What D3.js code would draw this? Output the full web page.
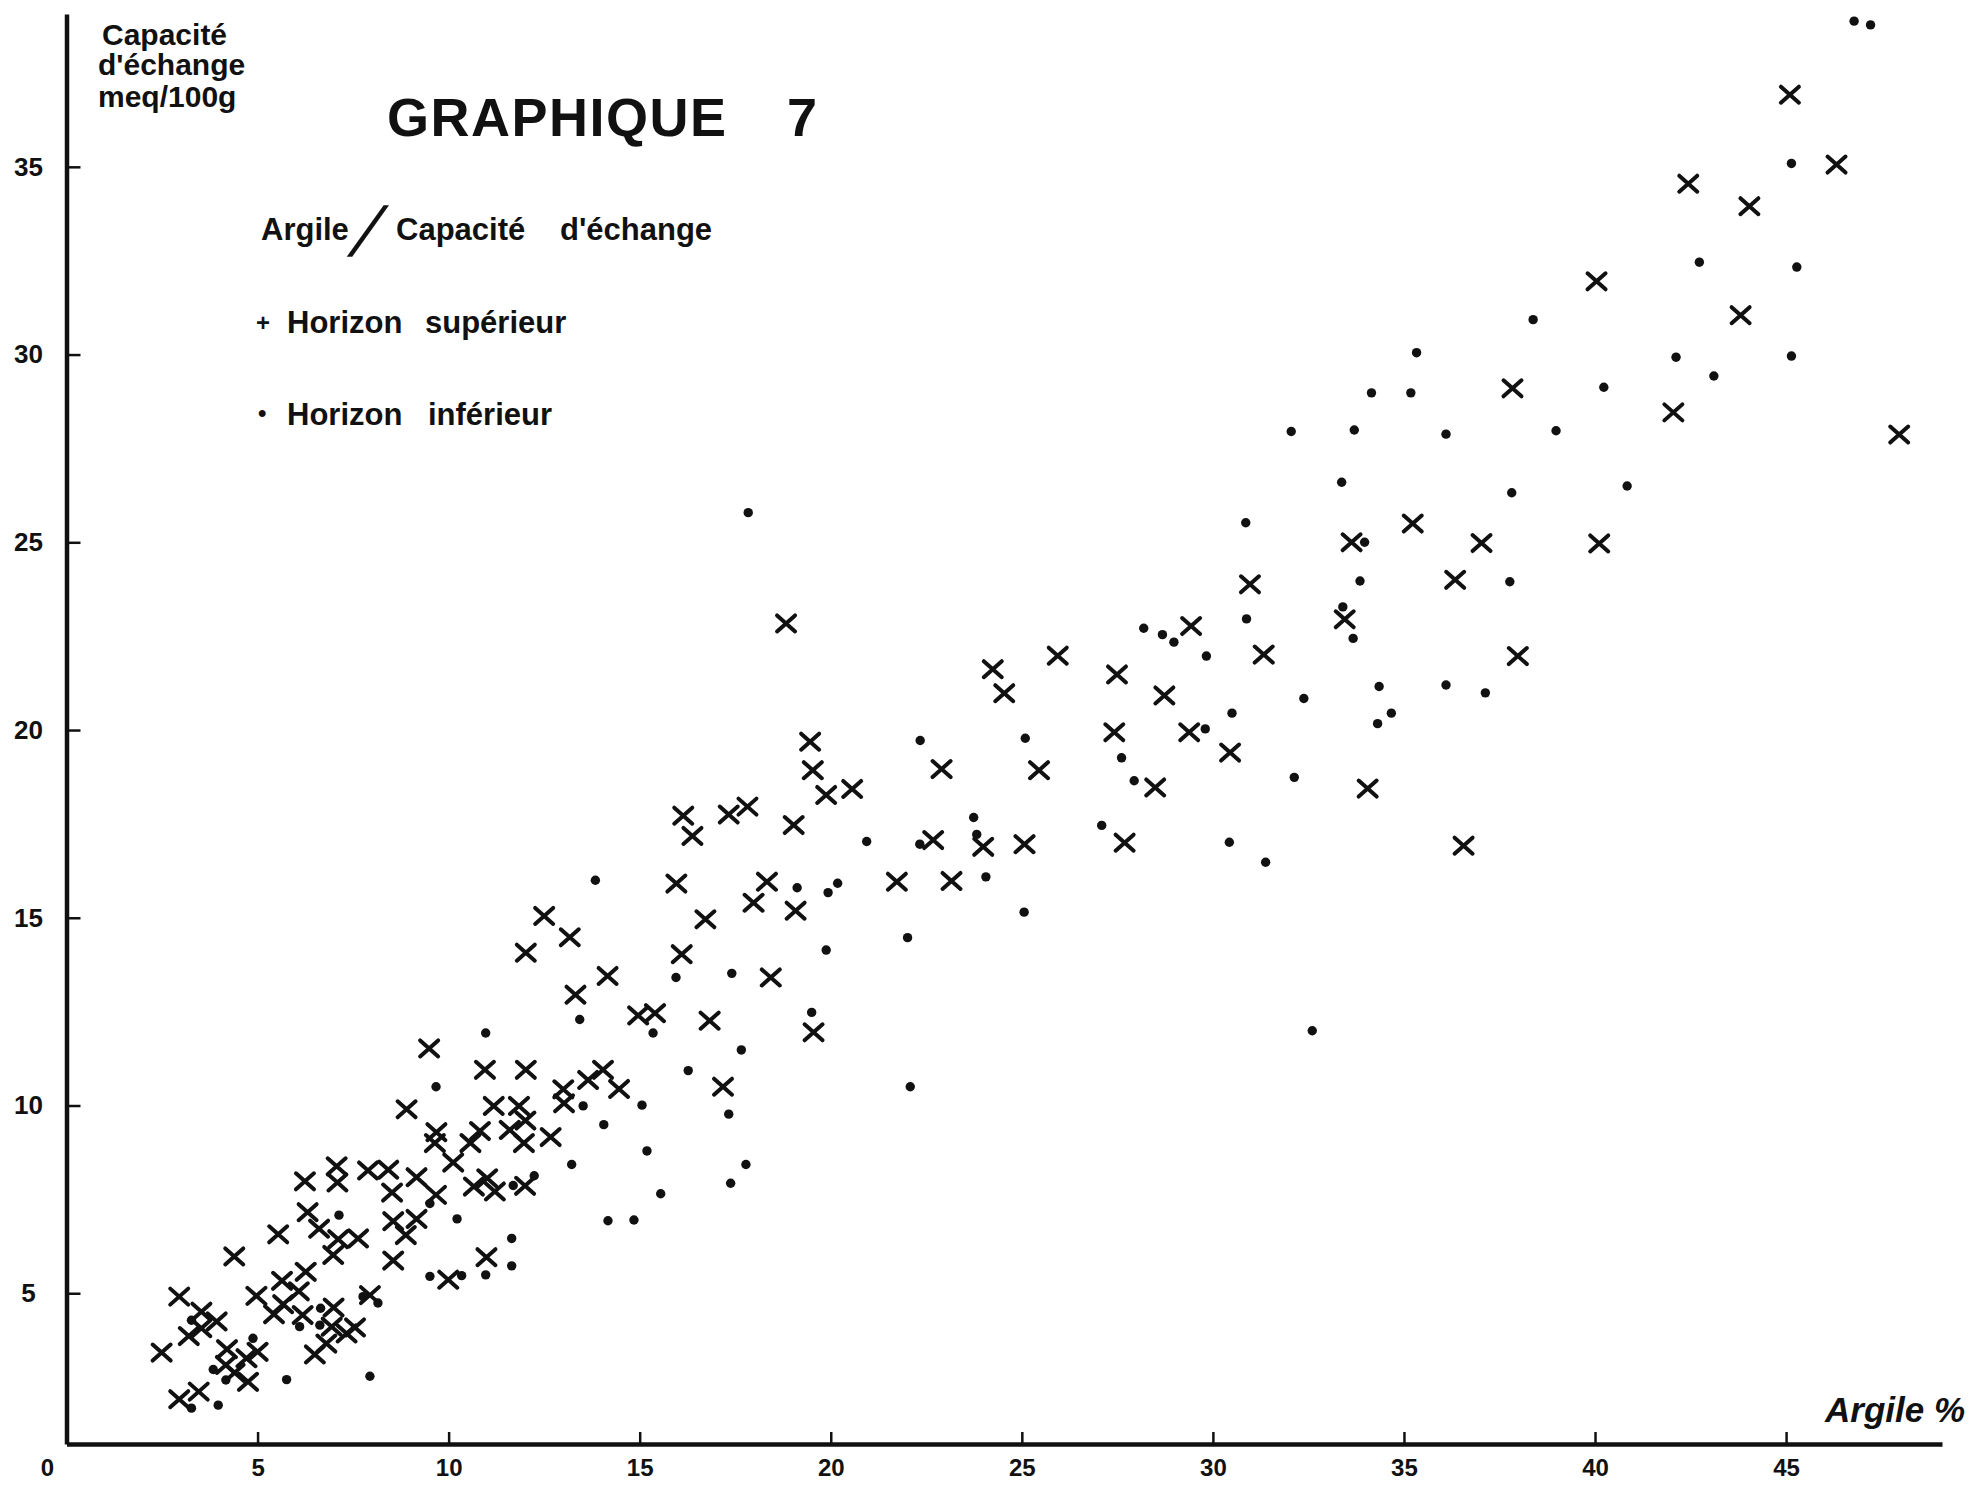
<!DOCTYPE html>
<html><head><meta charset="utf-8">
<script src="https://cdn.jsdelivr.net/npm/d3@7"></script>
<style>
html,body{margin:0;padding:0;background:#fff;}
svg{display:block;}
text{font-family:"Liberation Sans", Arial, sans-serif; fill:#111;}
</style></head><body>
<svg id="chart" width="1969" height="1494"></svg>
<script>
// ---- data ----
const xTicks = [5,10,15,20,25,30,35,40,45];
const yTicks = [5,10,15,20,25,30,35];

// Horizon supérieur (crosses): [argile %, capacité d'échange]
const superieur = [
 [45.1,36.92],[46.32,35.06],[42.44,34.55],[44.04,33.95],[40.04,31.95],[43.81,31.05],[37.84,29.1],[42.05,28.46],[47.96,27.87],[40.11,24.97],
 [35.23,25.5],[33.63,25.0],[37.03,24.98],[30.97,23.88],[36.34,24.0],[33.45,22.95],[29.43,22.77],[31.33,22.01],[37.98,21.97],[27.49,21.48],
 [28.73,20.92],[27.42,19.94],[29.38,19.94],[30.45,19.4],[28.49,18.47],[34.05,18.44],[36.56,16.92],[27.69,17.0],
 [18.83,22.84],[25.94,21.98],[24.24,21.62],[24.54,20.98],[19.46,19.69],[19.53,18.93],[22.9,18.96],[25.45,18.93],[19.88,18.27],[20.56,18.43],
 [17.33,17.75],[17.82,17.96],[19.03,17.47],[23.99,16.89],[22.68,17.07],[25.07,16.96],[18.33,15.96],[17.98,15.4],[19.08,15.19],[16.72,14.96],
 [21.73,15.96],[23.16,15.98],[18.43,13.41],[19.55,11.95],[16.83,12.26],[17.18,10.5],[16.14,17.72],[16.38,17.18],
 [15.96,15.91],[12.5,15.05],[13.17,14.48],[12.02,14.07],[16.1,14.03],[14.16,13.45],[13.32,12.95],[14.96,12.4],[15.4,12.46],[9.49,11.52],
 [10.95,10.95],[12.02,10.95],[8.9,9.9],[13.0,10.43],[13.02,10.06],[13.65,10.68],[14.04,10.95],[14.46,10.44],[11.18,9.99],[11.84,9.99],
 [9.68,9.29],[9.64,9.0],[10.82,9.32],[10.57,9.0],[11.6,9.35],[12.01,9.6],[11.97,9.0],[12.67,9.16],[10.12,8.48],[8.42,8.29],
 [9.16,8.09],[8.52,7.68],[9.67,7.62],[10.66,7.84],[11.01,8.06],[11.21,7.71],[12.0,7.86],[8.55,6.92],[9.16,6.98],[8.88,6.55],
 [7.07,8.38],[7.09,7.95],[7.89,8.27],[6.24,7.98],[6.31,7.16],[6.61,6.72],[5.54,6.57],[7.11,6.44],[7.63,6.46],[6.98,6.02],
 [8.55,5.87],[10.99,5.96],[9.99,5.36],[7.94,4.95],[4.39,5.98],[2.95,4.91],[3.53,4.51],[3.93,4.25],[3.53,4.07],[3.2,3.86],
 [2.49,3.42],[4.2,3.51],[4.71,3.27],[5.0,3.44],[4.17,3.09],[4.4,2.88],[4.75,2.64],[4.97,4.93],[5.64,5.33],[6.26,5.57],
 [6.08,5.05],[5.67,4.71],[5.43,4.44],[6.18,4.42],[6.99,4.62],[6.94,4.11],[7.55,4.09],[7.33,3.93],[6.8,3.66],[6.5,3.37],
 [2.95,2.18],[3.46,2.38]
];

// Horizon inférieur (dots)
const inferieur = [
 [46.78,38.88],[47.21,38.78],[45.14,35.09],[42.73,32.46],[45.28,32.33],[38.38,30.93],[42.12,29.93],[45.14,29.96],[43.11,29.43],[40.23,29.13],
 [38.98,27.97],[37.82,26.32],[40.84,26.5],[37.77,23.95],
 [35.33,30.05],[34.15,28.98],[35.18,28.98],[32.05,27.95],[33.7,27.99],[36.1,27.88],[33.37,26.6],[30.86,25.52],[33.97,25.0],[33.85,23.97],
 [33.4,23.28],[33.67,22.44],[30.88,22.96],[28.19,22.71],[28.68,22.54],[28.98,22.34],[29.83,21.97],[32.38,20.84],[34.35,21.16],[36.1,21.2],
 [37.13,20.99],[34.67,20.45],[34.31,20.17],[30.5,20.45],[29.8,20.03],[27.61,19.26],[27.94,18.65],[32.13,18.74],[27.09,17.46],[30.43,17.01],
 [31.38,16.48],[32.6,11.99],
 [22.34,19.72],[25.09,19.78],[23.74,17.67],[23.82,17.22],[20.94,17.03],[22.33,16.96],[19.12,15.8],[19.93,15.67],[20.18,15.92],[24.06,16.09],
 [25.06,15.15],[22.01,14.47],[19.88,14.14],[17.41,13.52],[19.5,12.48],[17.66,11.48],[22.08,10.5],[17.84,25.79],
 [13.84,16.0],[15.95,13.41],[13.43,12.29],[15.35,11.93],[10.97,11.93],[9.67,10.5],[13.52,9.99],[15.06,10.01],[17.33,9.77],[14.06,9.49],
 [15.19,8.79],[13.22,8.43],[17.78,8.43],[17.38,7.93],[15.55,7.65],[9.51,7.39],[11.69,7.87],[12.24,8.13],[10.22,6.98],[11.65,6.46],
 [14.17,6.93],[14.85,6.95],[16.27,10.93],
 [7.13,7.08],[9.51,5.45],[10.34,5.47],[10.97,5.49],[11.65,5.73],[7.76,4.91],[8.15,4.74],[3.27,4.28],[4.88,3.8],[3.84,2.97],
 [4.17,2.69],[5.76,2.7],[7.94,2.79],[6.1,4.11],[6.65,4.6],[6.63,4.15],[3.27,1.94],[3.97,2.02]
];

// ---- drawing ----
const W = 1969, H = 1494;
const svg = d3.select("#chart");
svg.append("rect").attr("width", W).attr("height", H).attr("fill", "#fff");

const x = d3.scaleLinear().domain([0, 49.08]).range([66.5, 1942]);
const y = d3.scaleLinear().domain([0.985, 39.07]).range([1444, 14]);
const ink = "#111";

// x axis
const gx = svg.append("g").attr("transform", "translate(0,1444)")
  .call(d3.axisBottom(x).tickValues(xTicks).tickSizeInner(-12).tickSizeOuter(0).tickPadding(15).tickFormat(d3.format("d")));
gx.select(".domain").attr("stroke", ink).attr("stroke-width", 4.5);
gx.selectAll(".tick line").attr("stroke", ink).attr("stroke-width", 2.5);
gx.selectAll(".tick text").attr("fill", ink).attr("font-size", 24).attr("font-weight", "bold")
  .attr("font-family", "'Liberation Sans', Arial, sans-serif");

// y axis
const gy = svg.append("g").attr("transform", "translate(66.5,0)")
  .call(d3.axisLeft(y).tickValues(yTicks).tickSizeInner(-14).tickSizeOuter(0).tickPadding(0).tickFormat(d3.format("d")));
gy.select(".domain").attr("stroke", ink).attr("stroke-width", 4.5);
gy.selectAll(".tick line").attr("stroke", ink).attr("stroke-width", 2.5);
gy.selectAll(".tick text").attr("x", -38).attr("text-anchor", "middle").attr("fill", ink)
  .attr("font-size", 26).attr("font-weight", "bold")
  .attr("font-family", "'Liberation Sans', Arial, sans-serif");

// origin label
svg.append("text").attr("x", x(0) - 19).attr("y", 1459).attr("dy", "0.71em")
  .attr("text-anchor", "middle").attr("font-size", 24).attr("font-weight", "bold").text("0");

// marks
svg.append("g").selectAll("path").data(superieur).join("path")
  .attr("transform", d => `translate(${x(d[0])},${y(d[1])})`)
  .attr("d", "M-9,-8L9,8M-9,8L9,-8")
  .attr("stroke", ink).attr("stroke-width", 4).attr("stroke-linecap", "round").attr("fill", "none");

svg.append("g").selectAll("circle").data(inferieur).join("circle")
  .attr("cx", d => x(d[0])).attr("cy", d => y(d[1])).attr("r", 4.7).attr("fill", ink);

// y-axis title
const yt = svg.append("g").attr("font-size", 30).attr("font-weight", "bold");
yt.append("text").attr("x", 102).attr("y", 45).text("Capacité");
yt.append("text").attr("x", 98).attr("y", 75).text("d'échange");
yt.append("text").attr("x", 98).attr("y", 107).text("meq/100g");

// main title
const tt = svg.append("g").attr("font-size", 54).attr("font-weight", "bold");
tt.append("text").attr("x", 387).attr("y", 136).attr("letter-spacing", 1.5).text("GRAPHIQUE");
tt.append("text").attr("x", 787).attr("y", 136).text("7");

// subtitle
const st = svg.append("g").attr("font-size", 31).attr("font-weight", "bold");
st.append("text").attr("x", 261).attr("y", 240).text("Argile");
st.append("text").attr("transform", "translate(347,256) skewX(-24)")
  .attr("font-size", 70).attr("font-weight", "normal").text("/");
st.append("text").attr("x", 396).attr("y", 240).text("Capacité");
st.append("text").attr("x", 560).attr("y", 240).text("d'échange");

// legend
const lg = svg.append("g").attr("font-size", 31).attr("font-weight", "bold");
const l1 = lg.append("text").attr("y", 333);
l1.append("tspan").attr("x", 256).attr("font-size", 24).attr("dy", -2).text("+");
l1.append("tspan").attr("x", 287).attr("dy", 2).text("Horizon");
l1.append("tspan").attr("x", 425).text("supérieur");
const l2 = lg.append("text").attr("y", 425);
l2.append("tspan").attr("x", 258).attr("font-size", 24).attr("dy", -4).text("•");
l2.append("tspan").attr("x", 287).attr("dy", 4).text("Horizon");
l2.append("tspan").attr("x", 428).text("inférieur");

// x-axis title
svg.append("text").attr("x", 1825).attr("y", 1422).attr("font-size", 35)
  .attr("font-style", "italic").attr("font-weight", "bold").text("Argile %");
</script>
</body></html>
